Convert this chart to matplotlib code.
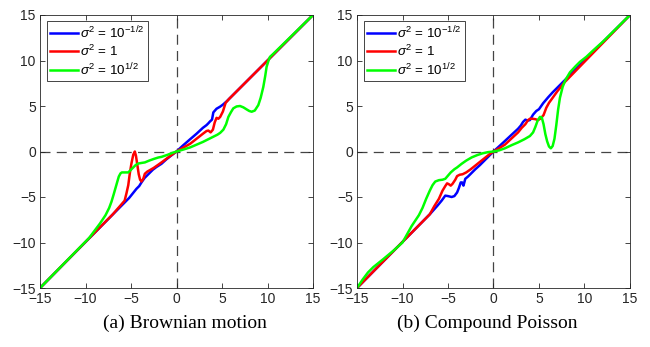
import matplotlib
matplotlib.use("Agg")
import matplotlib.pyplot as plt

# ---- data ----
ticks = [-15, -10, -5, 0, 5, 10, 15]
legend_labels = [r"$\sigma^2$ = 10$^{-1/2}$", r"$\sigma^2$ = 1", r"$\sigma^2$ = 10$^{1/2}$"]
captions = ["(a) Brownian motion", "(b) Compound Poisson"]

# (a) Brownian motion
blue_a_x = [-15, -5.2, -4.8, -4.4, -4.1, -3.85, -3.5, -3.1, -2.6, -2.2, -1.65, -1.1, -0.5, 0,
            0.7, 1.5, 2.2, 2.9, 3.3, 3.5, 3.68, 3.9, 4.05, 4.4, 4.78, 5.1, 5.5, 15]
blue_a_y = [-15, -5.1, -4.6, -4.1, -3.8, -3.4, -2.9, -2.5, -2.0, -1.7, -1.35, -0.85, -0.38, 0,
            0.65, 1.35, 1.95, 2.6, 2.9, 3.1, 3.3, 3.5, 4.3, 4.7, 4.92, 5.15, 5.5, 15]

red_a_x = [-15, -7.0, -6.3, -5.7, -5.5, -5.3, -5.13, -4.95, -4.75, -4.58, -4.45, -4.3, -4.15,
           -4.0, -3.85, -3.65, -3.48, -3.2, -2.93, -2.5, -2.0, -1.65, -1.0, -0.5, 0, 0.7, 1.5,
           2.2, 2.9, 3.3, 3.5, 3.75, 4.0, 4.2, 4.4, 4.6, 4.8, 5.1, 5.4, 5.8, 15]
red_a_y = [-15, -6.9, -6.1, -5.4, -4.6, -3.7, -2.4, -1.3, -0.35, 0.0, -0.5, -1.5, -2.5,
           -3.1, -3.3, -3.0, -2.45, -2.2, -2.05, -1.8, -1.45, -1.2, -0.72, -0.35, 0, 0.4, 0.85,
           1.4, 1.95, 2.25, 2.3, 2.1, 2.4, 3.2, 3.7, 3.6, 3.8, 4.4, 5.35, 5.8, 15]

green_a_x = [-15, -9.6, -9.0, -8.4, -7.8, -7.4, -7.14, -6.9, -6.7, -6.5, -6.34, -6.15, -6.0,
             -5.6, -5.3, -5.0, -4.76, -4.5, -4.2, -3.8, -3.48, -3.0, -2.5, -2.0, -1.65, -1.0,
             -0.5, 0, 0.7, 1.5, 2.2, 2.9, 3.5, 4.0, 4.5, 4.8, 5.15, 5.45, 5.7, 6.0, 6.24, 6.6,
             6.98, 7.35, 7.7, 8.0, 8.26, 8.6, 8.99, 9.25, 9.54, 9.75, 9.9, 10.1, 10.27, 10.6, 15]
green_a_y = [-15, -9.5, -8.7, -7.9, -7.0, -6.2, -5.5, -4.7, -4.0, -3.3, -2.75, -2.4, -2.3,
             -2.3, -2.3, -2.0, -1.76, -1.5, -1.32, -1.25, -1.2, -1.0, -0.82, -0.66, -0.59, -0.37,
             -0.17, 0, 0.2, 0.45, 0.75, 1.05, 1.35, 1.6, 1.85, 2.05, 2.4, 3.0, 3.8, 4.35, 4.74,
             4.95, 5.0, 4.85, 4.63, 4.45, 4.37, 4.5, 5.1, 5.9, 7.1, 8.3, 9.3, 9.95, 10.4, 10.7, 15]

# (b) Compound Poisson
blue_b_x = [-15, -7.0, -6.2, -5.7, -5.3, -5.0, -4.6, -4.3, -4.0, -3.8, -3.6, -3.45, -3.3, -3.1,
            -2.8, -2.5, -2.0, -1.5, -1.0, -0.5, 0, 0.6, 1.25, 2.0, 2.7, 3.0, 3.25, 3.5, 3.75,
            4.0, 4.35, 4.7, 5.0, 5.45, 6.0, 6.5, 7.5, 15]
blue_b_y = [-15, -6.9, -6.0, -5.4, -4.85, -4.9, -5.0, -4.9, -4.5, -4.0, -3.4, -3.4, -3.75, -3.0,
            -2.75, -2.45, -1.95, -1.5, -1.0, -0.5, 0, 0.55, 1.15, 1.85, 2.5, 2.85, 3.25, 3.5, 3.4,
            3.45, 4.05, 4.45, 4.65, 5.3, 5.95, 6.5, 7.5, 15]

red_b_x = [-15, -7.0, -6.5, -6.0, -5.6, -5.3, -5.1, -4.9, -4.7, -4.5, -4.2, -4.0, -3.7, -3.4,
           -3.0, -2.5, -2.0, -1.5, -1.0, -0.5, 0, 0.6, 1.25, 2.0, 2.7, 3.1, 3.5, 3.8, 4.0, 4.3,
           4.6, 4.9, 5.2, 5.5, 5.8, 6.1, 6.5, 7.0, 7.8, 15]
red_b_y = [-15, -6.9, -6.0, -5.2, -4.3, -3.8, -3.5, -3.6, -3.75, -3.55, -3.1, -2.7, -2.55, -2.5,
           -2.3, -1.95, -1.55, -1.15, -0.75, -0.35, 0, 0.35, 0.75, 1.45, 2.1, 2.6, 3.0, 3.45,
           3.6, 3.6, 3.55, 3.45, 3.65, 4.0, 4.8, 5.35, 5.9, 6.6, 7.6, 15]

green_b_x = [-15, -14.4, -13.8, -13.2, -12.7, -12.2, -11.6, -11.0, -10.5, -10.0, -9.5, -9.0,
             -8.6, -8.2, -7.8, -7.4, -7.0, -6.7, -6.4, -6.0, -5.6, -5.3, -5.0, -4.7, -4.3, -4.0,
             -3.5, -3.0, -2.4, -1.8, -1.2, -0.6, 0, 0.6, 1.25, 2.0, 2.7, 3.4, 4.0, 4.35, 4.6,
             4.85, 5.1, 5.3, 5.5, 5.7, 5.9, 6.1, 6.3, 6.5, 6.7, 6.9, 7.1, 7.3, 7.6, 7.9, 8.4,
             9.0, 9.5, 10.2, 11.0, 12.0, 15]
green_b_y = [-15, -14.1, -13.3, -12.7, -12.3, -11.9, -11.4, -10.9, -10.45, -10.0, -9.1, -8.2,
             -7.6, -7.0, -6.2, -5.2, -4.3, -3.7, -3.3, -3.15, -3.1, -3.0, -2.65, -2.3, -1.95,
             -1.75, -1.35, -1.0, -0.65, -0.4, -0.2, -0.07, 0, 0.12, 0.35, 0.7, 1.0, 1.35, 1.7,
             2.1, 2.7, 3.4, 3.8, 3.75, 3.0, 1.9, 1.1, 0.55, 0.35, 0.6, 1.4, 2.9, 4.6, 5.9, 7.1,
             7.85, 8.7, 9.35, 9.85, 10.4, 11.15, 12.05, 15]

panels = [
    [(blue_a_x, blue_a_y), (red_a_x, red_a_y), (green_a_x, green_a_y)],
    [(blue_b_x, blue_b_y), (red_b_x, red_b_y), (green_b_x, green_b_y)],
]
colors = ["#0000ff", "#ff0000", "#00ff00"]

plt.rcParams["font.family"] = ["Liberation Sans", "DejaVu Sans"]
plt.rcParams["mathtext.fontset"] = "custom"
plt.rcParams["mathtext.rm"] = "Liberation Sans"
plt.rcParams["mathtext.it"] = "Liberation Sans:italic"

fig = plt.figure(figsize=(6.5, 3.47), dpi=100)
axes_lefts = [40 / 650, 357 / 650]
caption_x = [185 / 650, 487 / 650]

for i, series in enumerate(panels):
    ax = fig.add_axes([axes_lefts[i], 59 / 347, 273 / 650, 273 / 347])
    ax.axhline(0, color="#444444", ls=(0, (8, 5)), lw=0.9, zorder=1)
    ax.axvline(0, color="#444444", ls=(0, (8, 5)), lw=0.9, zorder=1)
    for (xs, ys), c, lab in zip(series, colors, legend_labels):
        ax.plot(xs, ys, color=c, lw=1.8, label=lab, zorder=2)
    ax.set_xlim(-15, 15)
    ax.set_ylim(-15, 15)
    ax.set_xticks(ticks)
    ax.set_yticks(ticks)
    ax.tick_params(direction="in", top=True, right=True, length=3.5, width=0.6,
                   labelsize=10, colors="#262626", pad=3)
    for s in ax.spines.values():
        s.set_linewidth(0.6)
        s.set_color("#262626")
    leg = ax.legend(loc="upper left", bbox_to_anchor=(0.026, 0.978), borderaxespad=0,
                    fontsize=9.6, handlelength=2.1, handletextpad=0.1, labelspacing=0.2,
                    borderpad=0.25, fancybox=False, framealpha=1)
    leg.get_frame().set_edgecolor("#262626")
    leg.get_frame().set_linewidth(0.6)
    fig.text(caption_x[i], 24 / 347, captions[i], ha="center", va="center",
             fontsize=14, family="Liberation Serif")

fig.savefig("out.png", dpi=100)
